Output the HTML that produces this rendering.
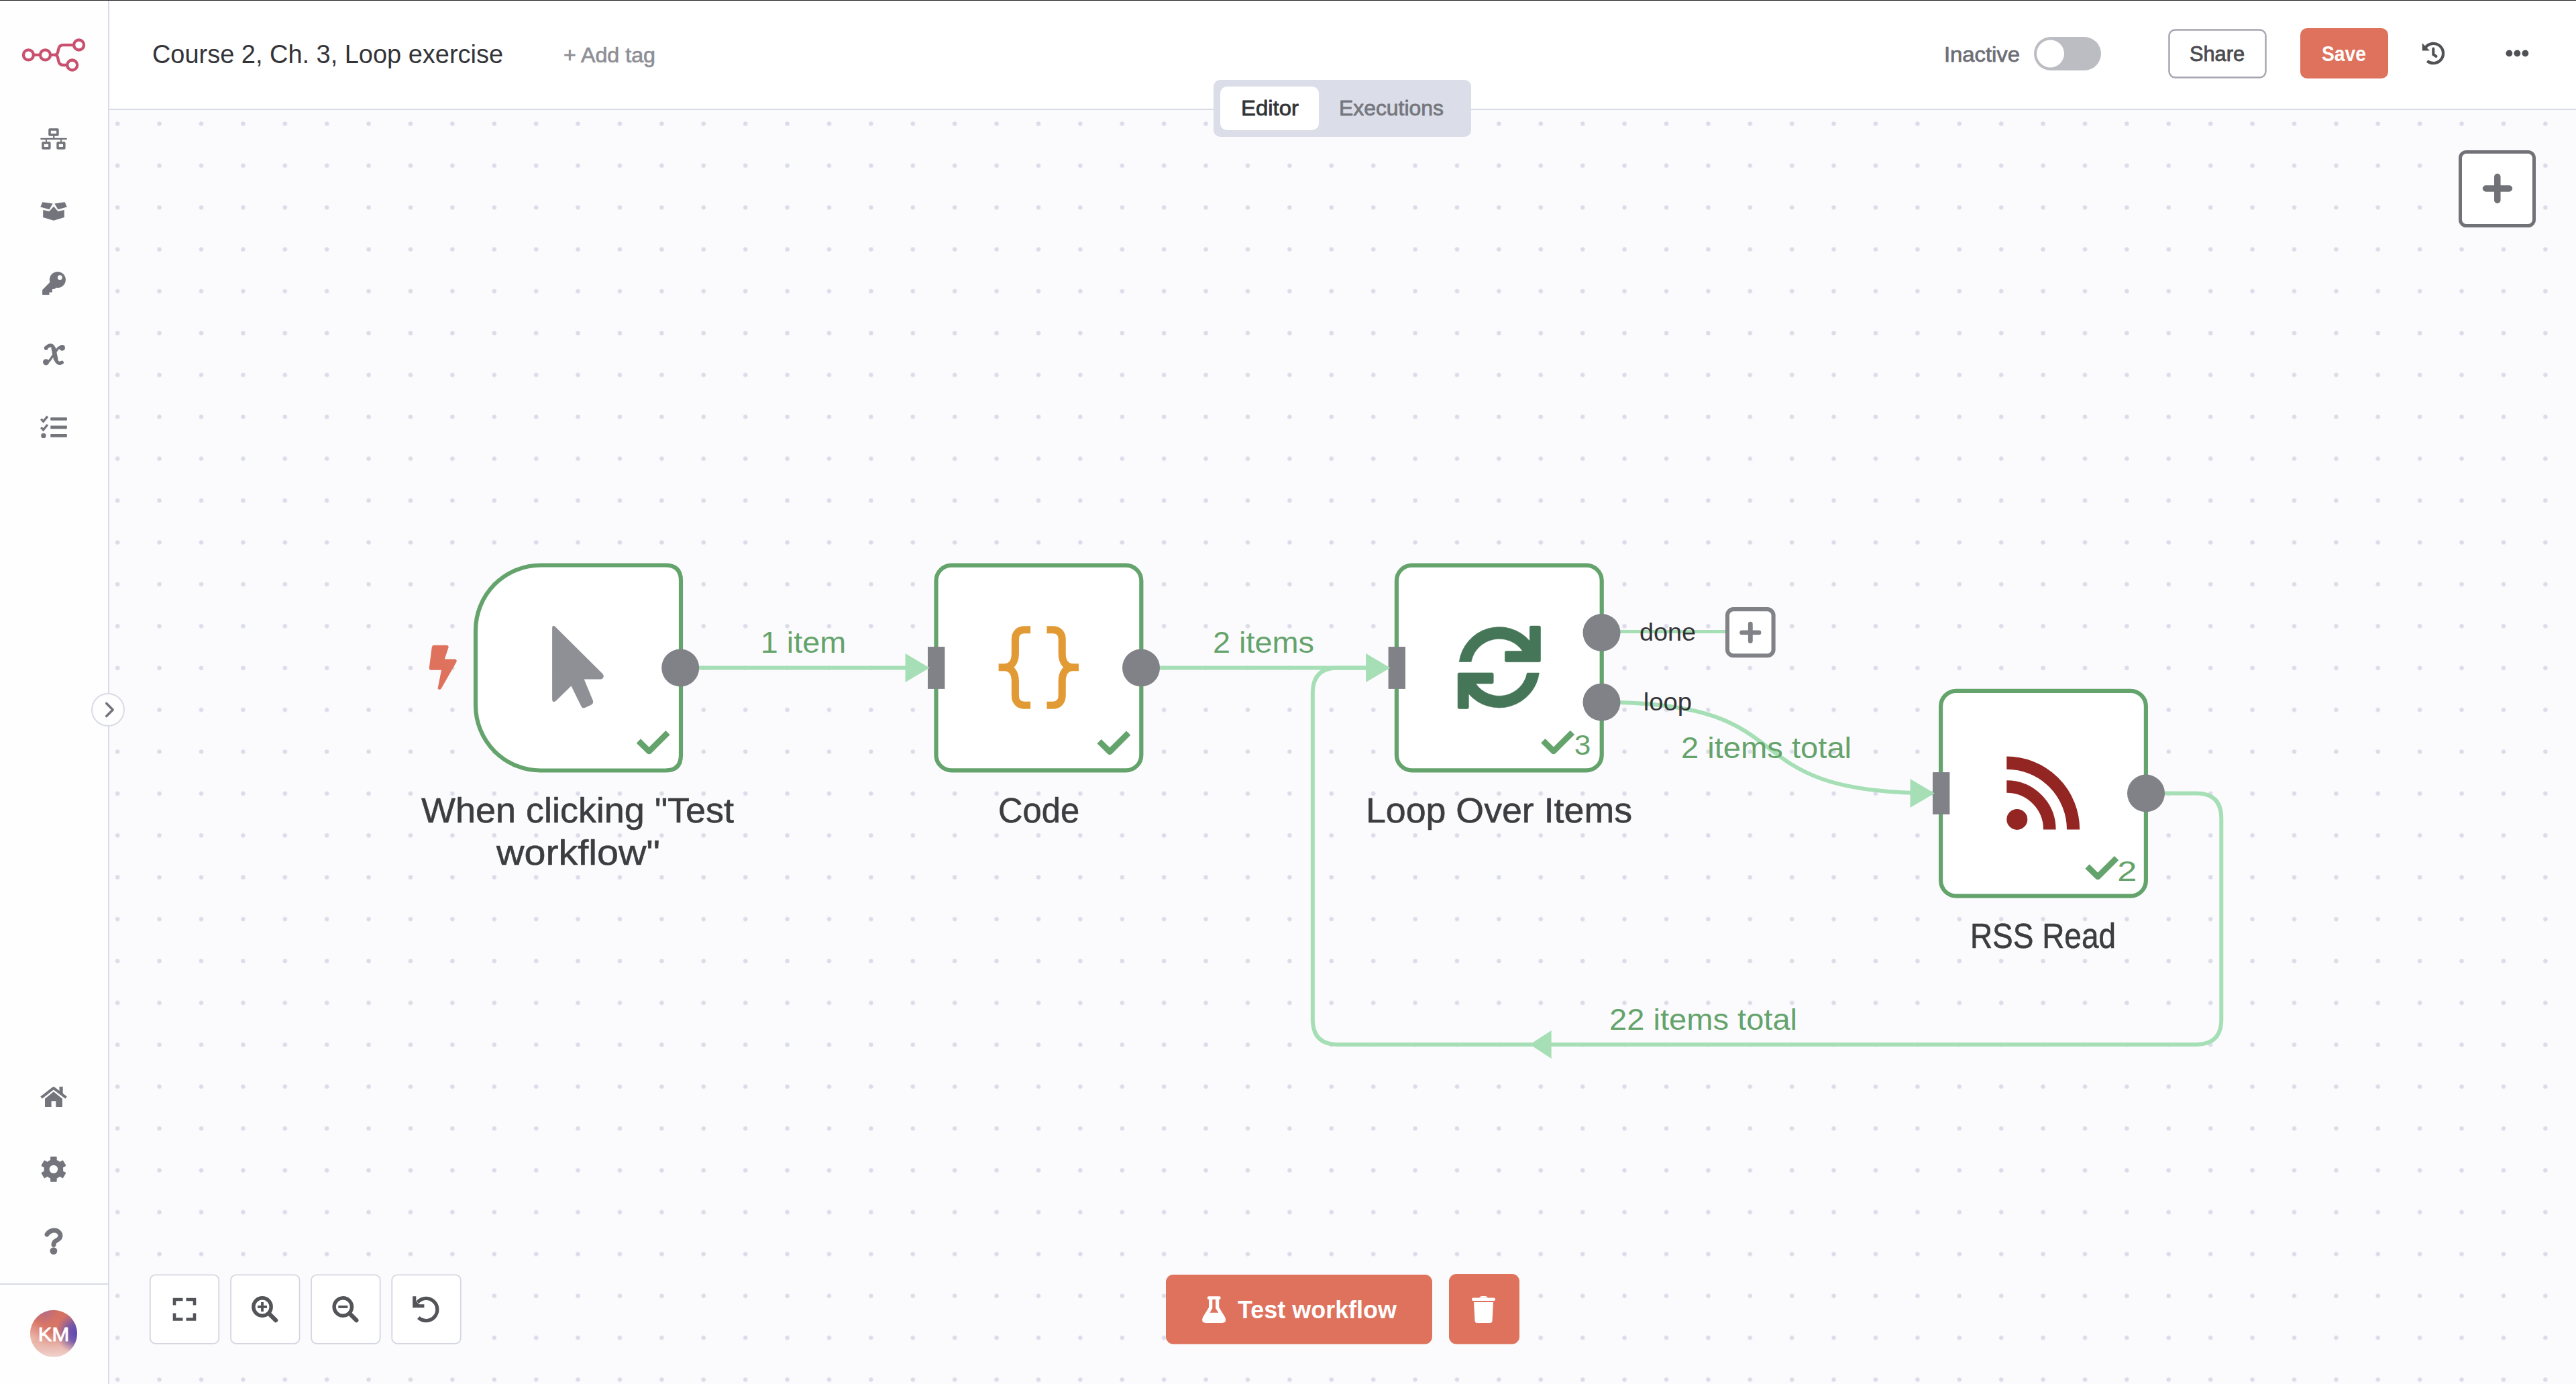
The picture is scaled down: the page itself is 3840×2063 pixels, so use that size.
<!DOCTYPE html>
<html><head><meta charset="utf-8"><title>n8n - Course 2, Ch. 3, Loop exercise</title>
<style>
html,body{margin:0;padding:0;width:100%;height:100%;overflow:hidden;background:#fbfbfd;}
svg{position:absolute;left:0;top:0;display:block;width:100vw;height:100vh;font-family:"Liberation Sans", sans-serif;}
text{font-family:"Liberation Sans", sans-serif;}
</style></head>
<body>
<svg width="3840" height="2063" viewBox="0 0 3840 2063" preserveAspectRatio="none">
<rect x="0" y="0" width="3840" height="2063" fill="#fbfbfd"/><defs><pattern id="dots" x="144.0" y="153.3" width="62.4" height="62.4" patternUnits="userSpaceOnUse"><circle cx="31.2" cy="31.2" r="3.2" fill="#dadce8"/></pattern><linearGradient id="avl" x1="0" y1="0" x2="0" y2="1"><stop offset="0" stop-color="#d46f62"/><stop offset="0.48" stop-color="#d9786a"/><stop offset="0.74" stop-color="#e7b2a8"/><stop offset="1" stop-color="#f1d2cc"/></linearGradient><radialGradient id="avp" cx="1" cy="0.48" r="0.45"><stop offset="0" stop-color="#5848b8"/><stop offset="0.45" stop-color="#6552b2" stop-opacity="0.85"/><stop offset="1" stop-color="#7a5aa8" stop-opacity="0"/></radialGradient><radialGradient id="avw" cx="0" cy="0.6" r="0.4"><stop offset="0" stop-color="#f0c4b6" stop-opacity="0.8"/><stop offset="1" stop-color="#f0c4b6" stop-opacity="0"/></radialGradient><radialGradient id="avt" cx="0.3" cy="0" r="0.3"><stop offset="0" stop-color="#9a68a0" stop-opacity="0.6"/><stop offset="1" stop-color="#9a68a0" stop-opacity="0"/></radialGradient></defs><rect x="163" y="164" width="3677" height="1899" fill="url(#dots)"/><rect x="0" y="0" width="3840" height="1" fill="#232323"/><rect x="0" y="1" width="161" height="2062" fill="#fefefe"/><rect x="161" y="1" width="2" height="2062" fill="#d9dbe6"/><rect x="0" y="1913" width="161" height="2" fill="#d9dbe6"/><rect x="163" y="1" width="3677" height="161" fill="#ffffff"/><rect x="163" y="162" width="3677" height="2" fill="#d9dbe6"/><g fill="none" stroke="#c9506e" stroke-width="4.3"><circle cx="42.4" cy="81.9" r="7.5"/><circle cx="67.5" cy="81.9" r="7.5"/><circle cx="117.6" cy="67" r="7.5"/><circle cx="107.7" cy="97" r="7.5"/><path d="M50 81.9 H60 M75 81.9 H81 C85 81.9 85.8 80 86.6 76 L87.4 72.5 C88.2 69 90 67.1 94 67.1 H110.1"/><path d="M81 81.9 C85 81.9 85.8 83.8 86.6 87.8 L87.4 91.5 C88.2 95 90 97 94 97 H100.2"/></g><g fill="#74757c" fill-rule="evenodd"><path d="M74.2 191.2 H85.7 Q87.7 191.2 87.7 193.2 V200.7 Q87.7 202.7 85.7 202.7 H74.2 Q72.2 202.7 72.2 200.7 V193.2 Q72.2 191.2 74.2 191.2 Z M75.8 194.8 V199.3 H84.1 V194.8 Z"/><rect x="79.1" y="202" width="2.2" height="4"/><rect x="60.2" y="205.8" width="39.7" height="2.4" rx="1.2"/><rect x="68" y="208" width="2" height="3.5"/><rect x="90" y="208" width="2" height="3.5"/><path d="M64.2 211.3 H73.6 Q75.6 211.3 75.6 213.3 V220.7 Q75.6 222.7 73.6 222.7 H64.2 Q62.2 222.7 62.2 220.7 V213.3 Q62.2 211.3 64.2 211.3 Z M65.7 214.7 V219.1 H72.1 V214.7 Z"/><path d="M86.3 211.3 H95.6 Q97.6 211.3 97.6 213.3 V220.7 Q97.6 222.7 95.6 222.7 H86.3 Q84.3 222.7 84.3 220.7 V213.3 Q84.3 211.3 86.3 211.3 Z M87.8 214.7 V219.1 H94 V214.7 Z"/></g><g fill="#74757c"><polygon points="63.4,301.2 78.7,303.4 73.5,312.3 60.2,308.6"/><polygon points="81.3,303.4 96.6,301.2 99.8,308.6 86.5,312.3"/><polygon points="64.2,312.9 73.5,314.9 80,307.7 86.5,314.9 95.8,312.9 95.8,323.9 80,328.7 64.2,323.9"/></g><g fill="#74757c"><circle cx="85.9" cy="416.9" r="12"/><polygon points="76,419 63.1,432.2 63.1,439.7 73.5,439.7 73.5,435.8 77.8,435.8 77.8,431.2 82,430.6 84.5,427"/><circle cx="89.3" cy="413.7" r="3.4" fill="#fefefe"/></g><g fill="none" stroke="#74757c" stroke-linecap="round"><path d="M68.6 518.7 C71 515.8 73.8 514.6 76.2 514.9 C78.9 515.4 80 518.2 80.6 521.5 L82.6 533 C83.6 538.8 86.2 541.6 89.5 541.5 L92.2 540.3" stroke-width="5.2"/><path d="M79.6 518.5 L83.4 536.5" stroke-width="6.6" stroke-linecap="butt"/><path d="M92.6 518 Q87.8 516.2 84.6 521.8 L75.2 535.6 Q72 540.6 68.6 540" stroke-width="3.4"/></g><g fill="#74757c"><circle cx="68.6" cy="518.9" r="2.8"/><circle cx="92.6" cy="518.4" r="4.4"/><circle cx="68.6" cy="539.8" r="4.6"/><circle cx="92.2" cy="540.3" r="2.5"/></g><g fill="#74757c"><rect x="75.2" y="622.2" width="24.7" height="4.6" rx="1"/><rect x="75.2" y="634.6" width="24.7" height="4.6" rx="1"/><rect x="75.2" y="647.1" width="24.7" height="4.6" rx="1"/><circle cx="64.9" cy="649.4" r="3.7"/></g><g fill="none" stroke="#74757c" stroke-width="3.4" stroke-linejoin="miter"><polyline points="61.2,624.7 64.6,628.3 70.9,620.6"/><polyline points="61.2,637.1 64.6,640.7 70.9,633"/></g><g fill="#74757c"><polyline points="61.5,1636.1 79.9,1621.8 98.6,1636.1" fill="none" stroke="#74757c" stroke-width="4" stroke-linejoin="round"/><rect x="88.5" y="1619.8" width="5.2" height="10.5"/><polygon points="67,1637.7 79.9,1627.3 92.9,1637.7 92.9,1650 83.3,1650 83.3,1641.3 76.6,1641.3 76.6,1650 67,1650"/></g><g fill="#74757c"><circle cx="79.9" cy="1742.9" r="14.3"/><rect x="75.1" y="1724.1" width="9.6" height="8" rx="1" transform="rotate(0 79.9 1742.9)"/><rect x="75.1" y="1724.1" width="9.6" height="8" rx="1" transform="rotate(60 79.9 1742.9)"/><rect x="75.1" y="1724.1" width="9.6" height="8" rx="1" transform="rotate(120 79.9 1742.9)"/><rect x="75.1" y="1724.1" width="9.6" height="8" rx="1" transform="rotate(180 79.9 1742.9)"/><rect x="75.1" y="1724.1" width="9.6" height="8" rx="1" transform="rotate(240 79.9 1742.9)"/><rect x="75.1" y="1724.1" width="9.6" height="8" rx="1" transform="rotate(300 79.9 1742.9)"/><circle cx="79.9" cy="1742.9" r="6.2" fill="#fefefe"/></g><path d="M70 1840 C73 1836 76.5 1834 80.6 1834 C86 1834 90 1837.5 90 1842 C90 1846 86.5 1848 83.5 1849.5 C81 1850.8 80 1852 80 1855.5" fill="none" stroke="#74757c" stroke-width="6.9" stroke-linecap="round"/><circle cx="79.9" cy="1864.6" r="5.4" fill="#74757c"/><circle cx="80" cy="1987.8" r="35" fill="url(#avl)"/><circle cx="80" cy="1987.8" r="35" fill="url(#avw)"/><circle cx="80" cy="1987.8" r="35" fill="url(#avt)"/><circle cx="80" cy="1987.8" r="35" fill="url(#avp)"/><text x="56.76" y="1998.9" font-size="30.4" fill="#ffffff" font-weight="normal" text-anchor="start" textLength="46.44" lengthAdjust="spacingAndGlyphs" stroke="#ffffff" stroke-width="0.9" stroke-linejoin="round" >KM</text><circle cx="161" cy="1058" r="24" fill="#fefefe" stroke="#d9dbe6" stroke-width="2"/><polyline points="158.7,1048.5 168.2,1058 158.7,1067.5" fill="none" stroke="#74757c" stroke-width="3.6" stroke-linecap="round" stroke-linejoin="round"/><text x="226.98" y="93.8" font-size="38.6" fill="#333438" font-weight="normal" text-anchor="start" textLength="523.03" lengthAdjust="spacingAndGlyphs" >Course 2, Ch. 3, Loop exercise</text><text x="839.98" y="92.9" font-size="31" fill="#8e8f96" font-weight="normal" text-anchor="start" textLength="137.05" lengthAdjust="spacingAndGlyphs" stroke="#8e8f96" stroke-width="0.7" stroke-linejoin="round" >+ Add tag</text><rect x="1809" y="119" width="384" height="85" rx="10" fill="#dbdee8"/><rect x="1819" y="129" width="147" height="65" rx="10" fill="#ffffff"/><text x="1849.92" y="172.4" font-size="31.1" fill="#333438" font-weight="normal" text-anchor="start" textLength="86.07" lengthAdjust="spacingAndGlyphs" stroke="#333438" stroke-width="0.8" stroke-linejoin="round" >Editor</text><text x="1995.95" y="172.4" font-size="31.1" fill="#76777e" font-weight="normal" text-anchor="start" textLength="156.07" lengthAdjust="spacingAndGlyphs" stroke="#76777e" stroke-width="0.8" stroke-linejoin="round" >Executions</text><text x="2897.92" y="91.9" font-size="30.5" fill="#6d6e75" font-weight="normal" text-anchor="start" textLength="113.13" lengthAdjust="spacingAndGlyphs" stroke="#6d6e75" stroke-width="0.75" stroke-linejoin="round" >Inactive</text><rect x="3032" y="55" width="100" height="50" rx="25" fill="#bcbdc2"/><circle cx="3056.5" cy="80" r="20.5" fill="#ffffff"/><rect x="3233.5" y="44.5" width="144" height="71" rx="9" fill="#ffffff" stroke="#a5a7b0" stroke-width="2.5"/><text x="3263.97" y="91.2" font-size="30.5" fill="#4a4b50" font-weight="normal" text-anchor="start" textLength="82.07" lengthAdjust="spacingAndGlyphs" stroke="#4a4b50" stroke-width="0.8" stroke-linejoin="round" >Share</text><rect x="3429" y="42" width="131" height="75" rx="10" fill="#de725d"/><text x="3460.97" y="91.2" font-size="30.5" fill="#ffffff" font-weight="bold" text-anchor="start" textLength="66.06" lengthAdjust="spacingAndGlyphs" >Save</text><g stroke="#505155" fill="none" stroke-width="4.3"><path d="M3615.3 71.1 A14.7 14.7 0 1 1 3618.2 91"/><polyline points="3627.3,72.5 3627.3,81.2 3631.5,84" stroke-width="4" stroke-linecap="round"/></g><polygon points="3610.8,64.2 3610.8,75.4 3621.9,75.4" fill="#505155"/><g fill="#505155"><circle cx="3740.4" cy="79.5" r="4.9"/><circle cx="3752.4" cy="79.5" r="4.9"/><circle cx="3764.4" cy="79.5" r="4.9"/></g><rect x="3667.5" y="226.5" width="110" height="110" rx="9" fill="#ffffff" stroke="#717278" stroke-width="5"/><path d="M3722.8 263.5 V298.5 M3705.5 281 H3740.5" stroke="#717278" stroke-width="9.5" stroke-linecap="round"/><rect x="223.75" y="1900.3" width="102.5" height="102.5" rx="8" fill="#ffffff" stroke="#d4d6e1" stroke-width="1.8"/><rect x="344.05" y="1900.3" width="102.5" height="102.5" rx="8" fill="#ffffff" stroke="#d4d6e1" stroke-width="1.8"/><rect x="464.15" y="1900.3" width="102.5" height="102.5" rx="8" fill="#ffffff" stroke="#d4d6e1" stroke-width="1.8"/><rect x="584.25" y="1900.3" width="102.5" height="102.5" rx="8" fill="#ffffff" stroke="#d4d6e1" stroke-width="1.8"/><g fill="none" stroke="#535458" stroke-width="4.6" stroke-linecap="butt"><polyline points="260,1945.6 260,1937 272.5,1937"/><polyline points="277.5,1937 290,1937 290,1945.6"/><polyline points="260,1957.5 260,1966.5 272.5,1966.5"/><polyline points="277.5,1966.5 290,1966.5 290,1957.5"/></g><g fill="none" stroke="#535458"><circle cx="391" cy="1948" r="13.2" stroke-width="5.4"/><line x1="402" y1="1959" x2="411" y2="1968" stroke-width="6.4" stroke-linecap="round"/><line x1="384" y1="1948" x2="398" y2="1948" stroke-width="3.8"/><line x1="391" y1="1941" x2="391" y2="1955" stroke-width="3.8"/></g><g fill="none" stroke="#535458"><circle cx="511.3" cy="1948" r="13.2" stroke-width="5.4"/><line x1="522.3" y1="1959" x2="531.3" y2="1968" stroke-width="6.4" stroke-linecap="round"/><line x1="504.3" y1="1948" x2="518.3" y2="1948" stroke-width="3.8"/></g><path d="M622.5 1941.3 A16.6 16.6 0 1 1 623.8 1964" fill="none" stroke="#535458" stroke-width="5.3"/><polygon points="615.1,1932.2 620.3,1932.2 620.3,1939.5 625,1944.3 632.4,1944.3 632.4,1949.2 615.1,1949.2" fill="#535458"/><rect x="1738" y="1900" width="397" height="103.5" rx="11" fill="#de725d"/><rect x="2160" y="1899" width="105" height="104.5" rx="11" fill="#de725d"/><g fill="#ffffff"><rect x="1799.8" y="1932.2" width="19.8" height="4.9" rx="2.2"/><path d="M1802 1936.5 H1817.2 V1948.8 L1826.3 1963.8 Q1829.3 1971.9 1822 1971.9 H1797.2 Q1789.9 1971.9 1792.9 1963.8 L1802 1948.8 Z M1807.3 1936.5 V1950.2 L1803.4 1956.8 H1816.4 L1812.1 1950.2 V1936.5 Z" fill-rule="evenodd"/></g><text x="1845.00" y="1965" font-size="36.8" fill="#ffffff" font-weight="bold" text-anchor="start" textLength="237.00" lengthAdjust="spacingAndGlyphs" >Test workflow</text><g fill="#ffffff"><rect x="2194" y="1934.5" width="35" height="4.5" rx="2"/><path d="M2205 1934.5 Q2206 1932 2209 1932 H2214 Q2217 1932 2218 1934.5 Z"/><path d="M2197 1941 H2226 L2224.5 1969 Q2224.2 1972 2221 1972 H2202 Q2198.8 1972 2198.5 1969 Z"/></g><path d="M1014 995.5 H1360" fill="none" stroke="#a6dfb5" stroke-width="6"/><path d="M1701 995.5 H2046" fill="none" stroke="#a6dfb5" stroke-width="6"/><path d="M3199 1182.5 H3274 Q3311.3 1182.5 3311.3 1219.8 V1519.6 Q3311.3 1556.9 3274 1556.9 H1994 Q1956.8 1556.9 1956.8 1519.6 V1033 Q1956.8 995.5 1994 995.5 H2046" fill="none" stroke="#a6dfb5" stroke-width="6"/><polygon points="2280.6,1556.9 2312.6,1535.9 2312.6,1577.9" fill="#a6dfb5"/><path d="M2388 941.6 H2574" fill="none" stroke="#a6dfb5" stroke-width="5"/><path d="M2388 1046.7 C2708 1046.7 2564 1182.5 2884 1182.5" fill="none" stroke="#a6dfb5" stroke-width="6"/><path d="M806 842.5 H992 Q1015 842.5 1015 865.5 V1125.5 Q1015 1148.5 992 1148.5 H806 A97 97 0 0 1 709 1051.5 V939.5 A97 97 0 0 1 806 842.5 Z" fill="#ffffff" stroke="#64a36b" stroke-width="6.2"/><rect x="1395.5" y="842.6" width="305.8" height="305.8" rx="23" fill="#ffffff" stroke="#64a36b" stroke-width="6.2"/><rect x="2081.9" y="842.6" width="305.8" height="305.8" rx="23" fill="#ffffff" stroke="#64a36b" stroke-width="6.2"/><rect x="2893.1" y="1029.8" width="305.8" height="305.8" rx="23" fill="#ffffff" stroke="#64a36b" stroke-width="6.2"/><circle cx="1014.2" cy="995.5" r="28" fill="#818288"/><circle cx="1701" cy="995.5" r="28" fill="#818288"/><circle cx="2387.5" cy="943" r="28" fill="#818288"/><circle cx="2387.5" cy="1046.7" r="28" fill="#818288"/><circle cx="3199" cy="1182.5" r="28" fill="#818288"/><rect x="1383" y="964.1" width="25.4" height="62.8" fill="#818288"/><rect x="2069.6" y="964.1" width="25.4" height="62.8" fill="#818288"/><rect x="2881" y="1151.1" width="25.4" height="62.8" fill="#818288"/><polygon points="1385.8,995.5 1349.5,974.0 1349.5,1017.0" fill="#a6dfb5"/><polygon points="2072.4,995.5 2036.1000000000001,974.0 2036.1000000000001,1017.0" fill="#a6dfb5"/><polygon points="2883.8,1182.5 2847.5,1161.0 2847.5,1204.0" fill="#a6dfb5"/><rect x="2575" y="908.15" width="68.6" height="69.1" rx="9" fill="#ffffff" stroke="#818288" stroke-width="6.1"/><path d="M2609.3 930.3 V955.5 M2596.65 942.9 H2621.95" stroke="#818288" stroke-width="6.9" stroke-linecap="round"/><path d="M646.5 961.8 H665.5 Q669.5 962 668.4 965.5 L662.8 982.5 H678.5 Q682 983.5 680.2 987 L658 1026 Q655.5 1029.5 652.5 1026.5 L658 998.8 H642 Q639.5 998.5 639.8 995.5 L643.8 964.5 Q644.3 961.8 646.5 961.8 Z" fill="#de725d"/><path d="M827 933.5 L898.5 1004.5 Q902 1010 896 1012.5 H870.7 L884 1044.5 Q885 1048.5 881.5 1050.5 L872 1055 Q868 1056.5 866.5 1053 L851.5 1022.6 L829 1044.5 Q823.1 1049 823.1 1041.5 V937 Q823.1 931 827 933.5 Z" fill="#8f9096"/><polyline points="951.9,1104.5 967.6,1119.9 995.5,1092.1" fill="none" stroke="#64a36b" stroke-width="8.9" stroke-linecap="butt" stroke-linejoin="round"/><polyline points="1638.6,1105.1 1654.3,1120.5 1682.2,1092.7" fill="none" stroke="#64a36b" stroke-width="8.9" stroke-linecap="butt" stroke-linejoin="round"/><polyline points="2300.3,1104.3 2316.0,1119.7 2343.9,1091.9" fill="none" stroke="#64a36b" stroke-width="8.9" stroke-linecap="butt" stroke-linejoin="round"/><polyline points="3111.5,1291.5 3127.2,1306.9 3155.1,1279.1" fill="none" stroke="#64a36b" stroke-width="8.9" stroke-linecap="butt" stroke-linejoin="round"/><text x="2346.69" y="1125.3" font-size="43.4" fill="#64a36b" font-weight="normal" text-anchor="start" textLength="24.62" lengthAdjust="spacingAndGlyphs" >3</text><text x="3156.33" y="1312.5" font-size="43.4" fill="#64a36b" font-weight="normal" text-anchor="start" textLength="29.17" lengthAdjust="spacingAndGlyphs" >2</text><g fill="none" stroke="#e29a35" stroke-width="11.1"><path d="M1536.1 938.7 H1527 C1519 938.7 1513.4 944 1513.4 952.5 V974 C1513.4 987 1507 994.8 1497 994.8 H1488.6 M1497 994.8 C1507 994.8 1513.4 1002.6 1513.4 1015.6 V1037 C1513.4 1045.5 1519 1051.2 1527 1051.2 H1536.1"/><path d="M1536.1 938.7 H1527 C1519 938.7 1513.4 944 1513.4 952.5 V974 C1513.4 987 1507 994.8 1497 994.8 H1488.6 M1497 994.8 C1507 994.8 1513.4 1002.6 1513.4 1015.6 V1037 C1513.4 1045.5 1519 1051.2 1527 1051.2 H1536.1" transform="translate(3096.6 0) scale(-1 1)"/></g><g><path d="M2175.2 986.5 A60.2 60.2 0 0 1 2280.3 955.4 V935.1 Q2280.3 933.1 2282.3 933.1 H2294.5 Q2296.5 933.1 2296.5 935.1 V984.7 Q2296.5 986.7 2294.5 986.7 H2245.4 Q2243.4 986.7 2243.4 984.7 V972.5 Q2243.4 970.5 2245.4 970.5 H2269.7 A42.5 42.5 0 0 0 2193.1 986.5 Z" fill="#467658" stroke="#467658" stroke-width="0.6" stroke-linejoin="round"/></g><g transform="rotate(180 2234.8 994.8)"><path d="M2175.2 986.5 A60.2 60.2 0 0 1 2280.3 955.4 V935.1 Q2280.3 933.1 2282.3 933.1 H2294.5 Q2296.5 933.1 2296.5 935.1 V984.7 Q2296.5 986.7 2294.5 986.7 H2245.4 Q2243.4 986.7 2243.4 984.7 V972.5 Q2243.4 970.5 2245.4 970.5 H2269.7 A42.5 42.5 0 0 0 2193.1 986.5 Z" fill="#467658" stroke="#467658" stroke-width="0.6" stroke-linejoin="round"/></g><circle cx="3006.8" cy="1221.4" r="15.5" fill="#932622"/><g fill="none" stroke="#932622" stroke-width="18.6"><path d="M2991.3 1172.5 A64 64 0 0 1 3055.3 1236.5"/></g><g fill="none" stroke="#932622" stroke-width="19.2"><path d="M2991.3 1137.2 A99.3 99.3 0 0 1 3090.6 1236.5"/></g><text x="628.00" y="1225.6" font-size="52.7" fill="#3c3d41" font-weight="normal" text-anchor="start" textLength="466.00" lengthAdjust="spacingAndGlyphs" stroke="#3c3d41" stroke-width="0.6" stroke-linejoin="round" >When clicking &quot;Test</text><text x="739.99" y="1289" font-size="52.7" fill="#3c3d41" font-weight="normal" text-anchor="start" textLength="244.03" lengthAdjust="spacingAndGlyphs" stroke="#3c3d41" stroke-width="0.6" stroke-linejoin="round" >workflow&quot;</text><text x="1487.88" y="1226" font-size="52.7" fill="#3c3d41" font-weight="normal" text-anchor="start" textLength="121.21" lengthAdjust="spacingAndGlyphs" stroke="#3c3d41" stroke-width="0.6" stroke-linejoin="round" >Code</text><text x="2035.93" y="1226.3" font-size="52.7" fill="#3c3d41" font-weight="normal" text-anchor="start" textLength="397.11" lengthAdjust="spacingAndGlyphs" stroke="#3c3d41" stroke-width="0.6" stroke-linejoin="round" >Loop Over Items</text><text x="2936.90" y="1412.8" font-size="52.7" fill="#3c3d41" font-weight="normal" text-anchor="start" textLength="217.18" lengthAdjust="spacingAndGlyphs" stroke="#3c3d41" stroke-width="0.6" stroke-linejoin="round" >RSS Read</text><text x="1133.84" y="972.9" font-size="44.9" fill="#64a36b" font-weight="normal" text-anchor="start" textLength="127.32" lengthAdjust="spacingAndGlyphs" >1 item</text><text x="1807.92" y="972.6" font-size="44.9" fill="#64a36b" font-weight="normal" text-anchor="start" textLength="151.16" lengthAdjust="spacingAndGlyphs" >2 items</text><text x="2505.93" y="1129.8" font-size="44.9" fill="#64a36b" font-weight="normal" text-anchor="start" textLength="254.16" lengthAdjust="spacingAndGlyphs" >2 items total</text><text x="2398.94" y="1535.2" font-size="44.9" fill="#64a36b" font-weight="normal" text-anchor="start" textLength="280.14" lengthAdjust="spacingAndGlyphs" >22 items total</text><text x="2443.90" y="954.7" font-size="36" fill="#333438" font-weight="normal" text-anchor="start" textLength="84.22" lengthAdjust="spacingAndGlyphs" >done</text><text x="2449.84" y="1058.7" font-size="36" fill="#333438" font-weight="normal" text-anchor="start" textLength="72.27" lengthAdjust="spacingAndGlyphs" >loop</text>
</svg>
</body></html>
